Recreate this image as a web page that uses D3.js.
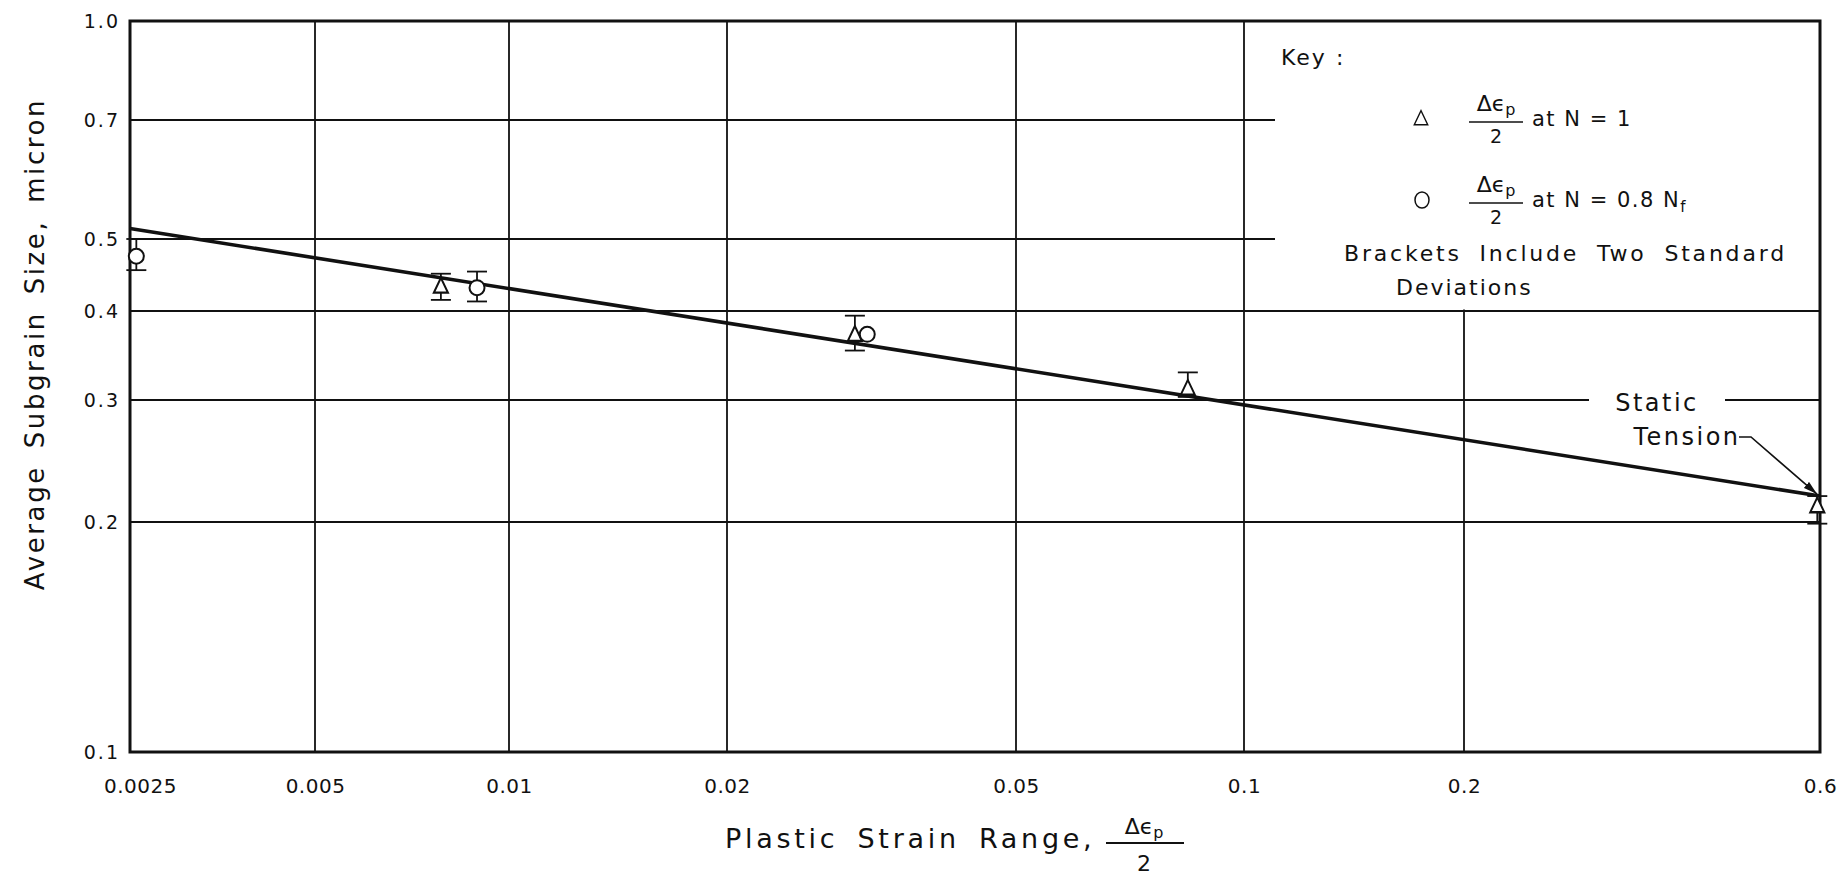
<!DOCTYPE html>
<html>
<head>
<meta charset="utf-8">
<script src="https://cdn.jsdelivr.net/npm/d3@7/dist/d3.min.js"></script>
<style>
  body { margin: 0; background: #fff; }
  text { font-family: "DejaVu Sans", "Liberation Sans", sans-serif; fill: #111; }
</style>
</head>
<body>
<svg id="chart" width="1843" height="876"></svg>
<script>
// axis ticks (log paper, hand drafted)
const xTicks = [0.0025, 0.005, 0.01, 0.02, 0.05, 0.1, 0.2, 0.6];
const xTickLabels = ["0.0025", "0.005", "0.01", "0.02", "0.05", "0.1", "0.2", "0.6"];
const yTicks = [1.0, 0.7, 0.5, 0.4, 0.3, 0.2, 0.1];
const yTickLabels = ["1.0", "0.7", "0.5", "0.4", "0.3", "0.2", "0.1"];

// triangles: delta eps_p / 2 at N = 1
const triStrain = [0.00784, 0.0300, 0.0843, 0.595];
const triSize = [0.430, 0.369, 0.310, 0.210];
const triLo = [0.414, 0.352, 0.303, 0.199];
const triHi = [0.449, 0.394, 0.328, 0.218];

// circles: delta eps_p / 2 at N = 0.8 Nf
const circStrain = [0.00256, 0.00892, 0.0312];
const circSize = [0.474, 0.430, 0.371];
const circLo = [0.454, 0.412, null];
const circHi = [0.500, 0.452, null];

// fitted line
const fitStrain = [0.0025, 0.6];
const fitSize = [0.515, 0.218];

const margin = { top: 21, left: 130 };
const width = 1690, height = 731;

// the grid paper is not perfectly uniform: calibrate each decade piece
const xPaper = [0, 185, 379, 597, 886, 1114, 1334, 1690];
const yPaper = [0, 99, 218, 290, 379, 501, 731];

const x = d3.scaleLog().domain(xTicks).range(xPaper);
const y = d3.scaleLog().domain(yTicks).range(yPaper);

const svg = d3.select("#chart");
const g = svg.append("g").attr("transform", `translate(${margin.left},${margin.top})`);

// grid
g.append("g")
  .selectAll("line")
  .data(xTicks.slice(1, -1))
  .enter()
  .append("line")
  .attr("x1", (d) => x(d))
  .attr("x2", (d) => x(d))
  .attr("y1", 0)
  .attr("y2", height)
  .attr("stroke", "#111")
  .attr("stroke-width", 1.8);

g.append("g")
  .selectAll("line")
  .data(yTicks.slice(1, -1))
  .enter()
  .append("line")
  .attr("x1", 0)
  .attr("x2", width)
  .attr("y1", (d) => y(d))
  .attr("y2", (d) => y(d))
  .attr("stroke", "#111")
  .attr("stroke-width", 1.8);

// key area (clear of grid down to the 0.4 line)
const keyLeft = 1145;
g.append("rect")
  .attr("x", keyLeft)
  .attr("y", 0)
  .attr("width", width - keyLeft)
  .attr("height", y(0.4) - 1.5)
  .attr("fill", "#fff");

// frame
g.append("rect")
  .attr("width", width)
  .attr("height", height)
  .attr("fill", "none")
  .attr("stroke", "#111")
  .attr("stroke-width", 3);

// axes labels via d3 axes
const xAxis = g.append("g")
  .attr("transform", `translate(0,${height})`)
  .call(d3.axisBottom(x).tickValues(xTicks).tickSize(0).tickPadding(27)
    .tickFormat((d, i) => xTickLabels[i]));
xAxis.select(".domain").remove();
xAxis.selectAll("text")
  .style("font-size", "20px")
  .style("letter-spacing", "0.5px")
  .attr("dx", (d, i) => (i === 0 ? 10 : 0));

const yAxis = g.append("g")
  .call(d3.axisLeft(y).tickValues(yTicks).tickSize(0).tickPadding(10)
    .tickFormat((d, i) => yTickLabels[i]));
yAxis.select(".domain").remove();
yAxis.selectAll("text")
  .style("font-size", "19px")
  .style("letter-spacing", "2px");

// static tension label breaks the 0.3 line
const staticX = x(0.6) - 163;
g.append("rect")
  .attr("x", staticX - 68)
  .attr("y", y(0.3) - 4)
  .attr("width", 136)
  .attr("height", 8)
  .attr("fill", "#fff");

// fit line
const line = d3.line().x((d) => x(d[0])).y((d) => y(d[1]));
g.append("path")
  .datum(fitStrain.map((s, i) => [s, fitSize[i]]))
  .attr("fill", "none")
  .attr("stroke", "#111")
  .attr("stroke-width", 3.6)
  .attr("d", line);

// error brackets
const bars = [];
triStrain.forEach((s, i) => bars.push({ s, lo: triLo[i], hi: triHi[i] }));
circStrain.forEach((s, i) => { if (circLo[i] !== null) bars.push({ s, lo: circLo[i], hi: circHi[i] }); });

const eb = g.append("g").attr("stroke", "#111").attr("stroke-width", 1.8);
eb.selectAll(".stem")
  .data(bars)
  .enter()
  .append("line")
  .attr("x1", (d) => x(d.s))
  .attr("x2", (d) => x(d.s))
  .attr("y1", (d) => y(d.hi))
  .attr("y2", (d) => y(d.lo));
eb.selectAll(".capHi")
  .data(bars)
  .enter()
  .append("line")
  .attr("x1", (d) => x(d.s) - 10)
  .attr("x2", (d) => x(d.s) + 10)
  .attr("y1", (d) => y(d.hi))
  .attr("y2", (d) => y(d.hi));
eb.selectAll(".capLo")
  .data(bars)
  .enter()
  .append("line")
  .attr("x1", (d) => x(d.s) - 10)
  .attr("x2", (d) => x(d.s) + 10)
  .attr("y1", (d) => y(d.lo))
  .attr("y2", (d) => y(d.lo));

// markers
const tri = d3.symbol().type(d3.symbolTriangle).size(95);
g.append("g")
  .selectAll("path")
  .data(triStrain.map((s, i) => [s, triSize[i]]))
  .enter()
  .append("path")
  .attr("d", tri)
  .attr("transform", (d) => `translate(${x(d[0])},${y(d[1])}) scale(0.95,1.15)`)
  .attr("fill", "#fff")
  .attr("stroke", "#111")
  .attr("stroke-width", 2);

g.append("g")
  .selectAll("circle")
  .data(circStrain.map((s, i) => [s, circSize[i]]))
  .enter()
  .append("circle")
  .attr("cx", (d) => x(d[0]))
  .attr("cy", (d) => y(d[1]))
  .attr("r", 7.5)
  .attr("fill", "#fff")
  .attr("stroke", "#111")
  .attr("stroke-width", 2);

// static tension annotation
g.append("text")
  .attr("x", staticX)
  .attr("y", y(0.3) + 11)
  .attr("text-anchor", "middle")
  .style("font-size", "24px")
  .style("letter-spacing", "2.5px")
  .text("Static");
g.append("text")
  .attr("x", staticX + 30)
  .attr("y", y(0.3) + 45)
  .attr("text-anchor", "middle")
  .style("font-size", "24px")
  .style("letter-spacing", "2.5px")
  .text("Tension");

svg.append("defs").append("marker")
  .attr("id", "arrow")
  .attr("viewBox", "0 0 14 8")
  .attr("refX", 14)
  .attr("refY", 4)
  .attr("markerWidth", 14)
  .attr("markerHeight", 8)
  .attr("markerUnits", "userSpaceOnUse")
  .attr("orient", "auto")
  .append("path")
  .attr("d", "M0,0L14,4L0,8Z")
  .attr("fill", "#111");

const tipX = x(fitStrain[1]) - 3, tipY = y(fitSize[1]) - 2;
g.append("path")
  .attr("d", `M${staticX + 82},${y(0.3) + 37}h12L${tipX},${tipY}`)
  .attr("fill", "none")
  .attr("stroke", "#111")
  .attr("stroke-width", 1.6)
  .attr("marker-end", "url(#arrow)");

// key
const key = g.append("g");
key.append("text")
  .attr("x", 1151)
  .attr("y", 44)
  .style("font-size", "22px")
  .style("letter-spacing", "2px")
  .text("Key :");

const keyRows = [
  { cy: 98, label: "at  N = 1", sub: null },
  { cy: 179, label: "at  N = 0.8 N", sub: "f" },
];
const fracX = 1366;
keyRows.forEach((r, i) => {
  if (i === 0) {
    key.append("path")
      .attr("d", d3.symbol().type(d3.symbolTriangle).size(95))
      .attr("transform", `translate(1291,${r.cy + 1}) scale(0.9,1.1)`)
      .attr("fill", "none")
      .attr("stroke", "#111")
      .attr("stroke-width", 1.5);
  } else {
    key.append("ellipse")
      .attr("cx", 1292)
      .attr("cy", r.cy)
      .attr("rx", 7)
      .attr("ry", 8)
      .attr("fill", "none")
      .attr("stroke", "#111")
      .attr("stroke-width", 1.5);
  }
  const num = key.append("text")
    .attr("x", fracX)
    .attr("y", r.cy - 8)
    .attr("text-anchor", "middle")
    .style("font-size", "22px");
  num.append("tspan").text("Δϵ");
  num.append("tspan").attr("dy", 4).style("font-size", "16px").text("p");
  key.append("line")
    .attr("x1", fracX - 27)
    .attr("x2", fracX + 27)
    .attr("y1", r.cy + 3)
    .attr("y2", r.cy + 3)
    .attr("stroke", "#111")
    .attr("stroke-width", 1.6);
  key.append("text")
    .attr("x", fracX)
    .attr("y", r.cy + 24)
    .attr("text-anchor", "middle")
    .style("font-size", "19px")
    .text("2");
  const t = key.append("text")
    .attr("x", 1402)
    .attr("y", r.cy + 7)
    .style("font-size", "21px")
    .style("letter-spacing", "1.5px")
    .text(r.label);
  if (r.sub) t.append("tspan").attr("dy", 5).style("font-size", "15px").text(r.sub);
});

key.append("text")
  .attr("x", 1214)
  .attr("y", 240)
  .style("font-size", "22px")
  .style("letter-spacing", "2.8px")
  .style("word-spacing", "8px")
  .text("Brackets Include Two Standard");
key.append("text")
  .attr("x", 1266)
  .attr("y", 274)
  .style("font-size", "22px")
  .style("letter-spacing", "2px")
  .text("Deviations");

// axis titles
svg.append("text")
  .attr("transform", `translate(44,${margin.top + 323}) rotate(-90)`)
  .attr("text-anchor", "middle")
  .style("font-size", "26px")
  .style("letter-spacing", "2.6px")
  .style("word-spacing", "6px")
  .text("Average Subgrain Size, micron");

svg.append("text")
  .attr("x", 725)
  .attr("y", 848)
  .style("font-size", "27px")
  .style("letter-spacing", "3.7px")
  .style("word-spacing", "7px")
  .text("Plastic Strain Range,");

const xt = svg.append("text")
  .attr("x", 1144)
  .attr("y", 834)
  .attr("text-anchor", "middle")
  .style("font-size", "22px");
xt.append("tspan").text("Δϵ");
xt.append("tspan").attr("dy", 4).style("font-size", "16px").text("p");
svg.append("line")
  .attr("x1", 1106)
  .attr("x2", 1184)
  .attr("y1", 843)
  .attr("y2", 843)
  .attr("stroke", "#111")
  .attr("stroke-width", 1.8);
svg.append("text")
  .attr("x", 1144)
  .attr("y", 871)
  .attr("text-anchor", "middle")
  .style("font-size", "22px")
  .text("2");
</script>
</body>
</html>
